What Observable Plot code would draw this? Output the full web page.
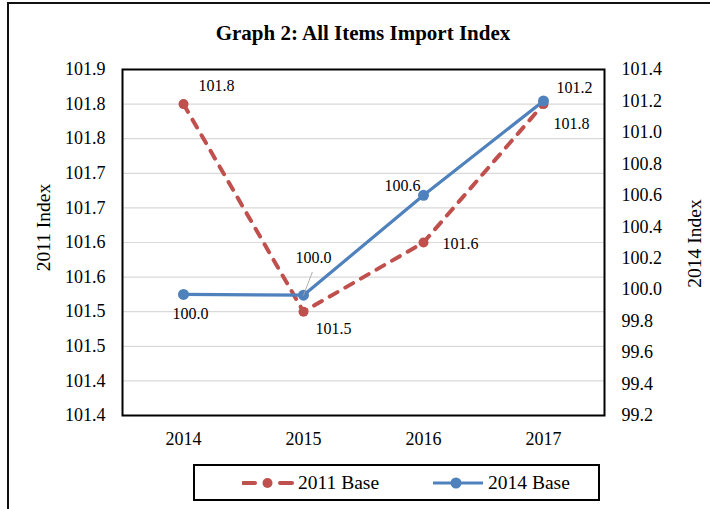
<!DOCTYPE html>
<html>
<head>
<meta charset="utf-8">
<script src="https://cdn.jsdelivr.net/npm/d3@7"></script>
<script src="https://cdn.jsdelivr.net/npm/@observablehq/plot@0.6"></script>
<style>
  html, body { margin: 0; padding: 0; background: #fff; }
  body { width: 710px; height: 509px; overflow: hidden; font-family: "Liberation Serif", "Times New Roman", serif; color: #000; }
  #wrap { position: relative; width: 710px; height: 509px; }
  #outer { position: absolute; left: 7px; top: 2px; width: 720px; height: 520px; border-left: 2.5px solid #111; border-top: 2.5px solid #111; }
  #title { position: absolute; left: 122px; width: 482px; top: 20px; line-height: 26px; text-align: center; font-weight: bold; font-size: 21px; }
  #chart { position: absolute; left: 0; top: 0; }
  #legend { position: absolute; left: 193px; top: 464px; width: 403px; height: 33px; border: 2px solid #000; }
  .item { position: absolute; top: 0; height: 33px; display: flex; align-items: center; font-size: 19.5px; }
  .item svg { margin-right: 4px; }
</style>
</head>
<body>
<div id="wrap">
  <div id="outer"></div>
  <div id="chart"></div>
  <div id="title">Graph 2: All Items Import Index</div>
  <div id="legend">
    <div class="item" style="left:47px">
      <svg width="52" height="14">
        <line x1="1" y1="7" x2="13" y2="7" stroke="#C0504D" stroke-width="4" stroke-linecap="round"/>
        <circle cx="25.5" cy="7" r="5" fill="#C0504D"/>
        <line x1="38" y1="7" x2="50" y2="7" stroke="#C0504D" stroke-width="4" stroke-linecap="round"/>
      </svg><span>2011 Base</span>
    </div>
    <div class="item" style="left:237px">
      <svg width="52" height="14">
        <line x1="1" y1="7" x2="51" y2="7" stroke="#4F81BD" stroke-width="3"/>
        <circle cx="24" cy="7" r="5.5" fill="#4F81BD"/>
      </svg><span>2014 Base</span>
    </div>
  </div>
</div>
<script>
// ---- data ----
const years = ["2014", "2015", "2016", "2017"];
const base2011 = [101.85, 101.55, 101.65, 101.85];
const base2011Labels = ["101.8", "101.5", "101.6", "101.8"];
const base2014 = [99.97, 99.965, 100.60, 101.20];
const base2014Labels = ["100.0", "100.0", "100.6", "101.2"];

const leftTickValues = [101.40, 101.45, 101.50, 101.55, 101.60, 101.65, 101.70, 101.75, 101.80, 101.85, 101.90];
const leftTickLabels = ["101.4", "101.4", "101.5", "101.5", "101.6", "101.6", "101.7", "101.7", "101.8", "101.8", "101.9"];
const rightTickValues = [99.2, 99.4, 99.6, 99.8, 100.0, 100.2, 100.4, 100.6, 100.8, 101.0, 101.2, 101.4];
const rightTickLabels = ["99.2", "99.4", "99.6", "99.8", "100.0", "100.2", "100.4", "100.6", "100.8", "101.0", "101.2", "101.4"];
const leftLabel = "2011 Index";
const rightLabel = "2014 Index";

// ---- secondary axis mapping ----
const LEFT = [101.4, 101.9];
const RIGHT = [99.2, 101.4];
const toLeft = v => LEFT[0] + (v - RIGHT[0]) / (RIGHT[1] - RIGHT[0]) * (LEFT[1] - LEFT[0]);
const rightTickPos = rightTickValues.map(toLeft);

const lookup = (vals, labels) => d => {
  const i = vals.findIndex(v => Math.abs(v - d) < 1e-6);
  return i >= 0 ? labels[i] : "";
};

const red = years.map((y, i) => ({year: y, value: base2011[i], label: base2011Labels[i]}));
const blue = years.map((y, i) => ({year: y, value: toLeft(base2014[i]), label: base2014Labels[i]}));

// label placement (pixel offsets)
const redOffsets = [[33, -18], [30, 17], [37, 1], [28, 20]];
const blueOffsets = [[7, 19], [10, -37], [-21, -9], [31, -13]];

const RED = "#C0504D", BLUE = "#4F81BD";
const labelMarks = [];
red.forEach((d, i) => labelMarks.push(Plot.text([d], {x: "year", y: "value", text: "label", dx: redOffsets[i][0], dy: redOffsets[i][1], fontSize: 16, fill: "#000"})));
blue.forEach((d, i) => labelMarks.push(Plot.text([d], {x: "year", y: "value", text: "label", dx: blueOffsets[i][0], dy: blueOffsets[i][1], fontSize: 16, fill: "#000"})));

const chart = Plot.plot({
  width: 710,
  height: 460,
  marginTop: 69,
  marginBottom: 45,
  marginLeft: 122,
  marginRight: 106,
  style: {fontFamily: '"Liberation Serif", "Times New Roman", serif', fontSize: "18px", color: "#000", background: "transparent", overflow: "visible"},
  x: {type: "point", domain: years, padding: 0.5},
  y: {domain: LEFT},
  marks: [
    Plot.gridY(leftTickValues, {stroke: "#d9d9d9", strokeOpacity: 1, strokeWidth: 1.2}),
    Plot.frame({stroke: "#000", strokeWidth: 2}),
    Plot.axisX({tickSize: 0, tickPadding: 17, label: null, fontSize: 18}),
    Plot.axisY(leftTickValues, {anchor: "left", tickSize: 0, tickPadding: 17, tickFormat: lookup(leftTickValues, leftTickLabels), label: null, fontSize: 18}),
    Plot.axisY(rightTickPos, {anchor: "right", tickSize: 0, tickPadding: 17, tickFormat: lookup(rightTickPos, rightTickLabels), label: null, fontSize: 18}),
    Plot.text([leftLabel], {frameAnchor: "left", text: d => d, rotate: -90, textAnchor: "middle", dx: -79, dy: -15, fontSize: 19.5, fill: "#000"}),
    Plot.text([rightLabel], {frameAnchor: "right", text: d => d, rotate: -90, textAnchor: "middle", dx: 90, dy: 1, fontSize: 19.5, fill: "#000"}),
    Plot.line(red, {x: "year", y: "value", stroke: RED, strokeWidth: 4, strokeDasharray: "9,9", strokeLinecap: "round"}),
    Plot.dot(red, {x: "year", y: "value", r: 5, fill: RED}),
    Plot.line(blue, {x: "year", y: "value", stroke: BLUE, strokeWidth: 3.2}),
    Plot.dot(blue, {x: "year", y: "value", r: 5.5, fill: BLUE}),
    Plot.vector([blue[1]], {x: "year", y: "value", length: 24, rotate: 21, anchor: "start", r: 0, stroke: "#a6a6a6", strokeWidth: 0.8}),
    ...labelMarks
  ]
});
document.getElementById("chart").appendChild(chart);
</script>
</body>
</html>
